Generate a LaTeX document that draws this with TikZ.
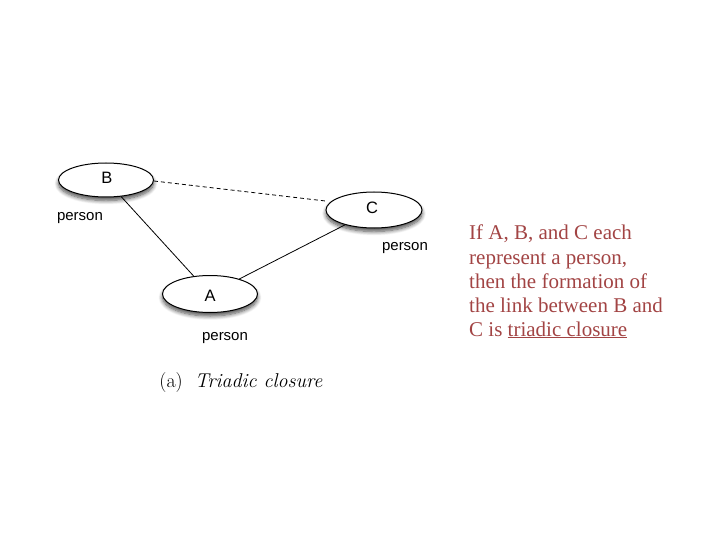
\documentclass[tikz,border=0pt]{standalone}
\usepackage{fontspec}
\setmainfont{Latin Modern Roman}
\newfontfamily\helv{Liberation Sans}
\newfontfamily\camb{Liberation Serif}
\usetikzlibrary{shapes.geometric,shadows.blur}
\definecolor{txtred}{RGB}{162,68,68}
\begin{document}
\begin{tikzpicture}[x=1pt,y=-1pt,
  person/.style={ellipse,draw,line width=1pt,fill=white,inner sep=0pt,
    blur shadow={shadow xshift=0pt,shadow yshift=-3.5pt,shadow blur radius=4pt,shadow blur steps=8,shadow opacity=70}},
  lbl/.style={font=\helv\fontsize{16.5}{18}\selectfont},
  plbl/.style={font=\helv\fontsize{15}{18}\selectfont},
  rline/.style={anchor=base west,inner sep=0pt,text=txtred,font=\camb\fontsize{21}{24}\selectfont},
  edge/.style={line width=0.8pt}]
\useasboundingbox (0,0) rectangle (720,540);
\node[person,minimum width=95,minimum height=34] (B) at (106,180) {};
\node[person,minimum width=96,minimum height=36] (C) at (374,210) {};
\node[person,minimum width=95,minimum height=37] (A) at (210,294) {};
\node[lbl] (Bt) at (107,178) {B};
\node[lbl] (Ct) at (372,208) {C};
\node[lbl] (At) at (210,296) {A};
\node[plbl] (Bp) at (80,218) {person};
\node[plbl] (Cp) at (405,248) {person};
\node[plbl] (Ap) at (225,338) {person};
\draw[edge] (B) -- (A);
\draw[edge] (A) -- (C);
\draw[edge,dashed,dash pattern=on 4pt off 3pt] (B.east) ++(0,1) coordinate (b1) (b1) -- (C.west |- 0,201);
\node[font=\fontsize{20}{24}\selectfont] (cap) at (241,383) {(a)\ \ \textit{Triadic closure}};
\node[rline] (l1) at (469,240) {If A, B, and C each};
\node[rline] (l2) at (469,264) {represent a person,};
\node[rline] (l3) at (469,288) {then the formation of};
\node[rline] (l4) at (469,312) {the link between B and};
\node[rline] (l5) at (469,336) {C is \underline{triadic closure}};
\end{tikzpicture}
\end{document}
